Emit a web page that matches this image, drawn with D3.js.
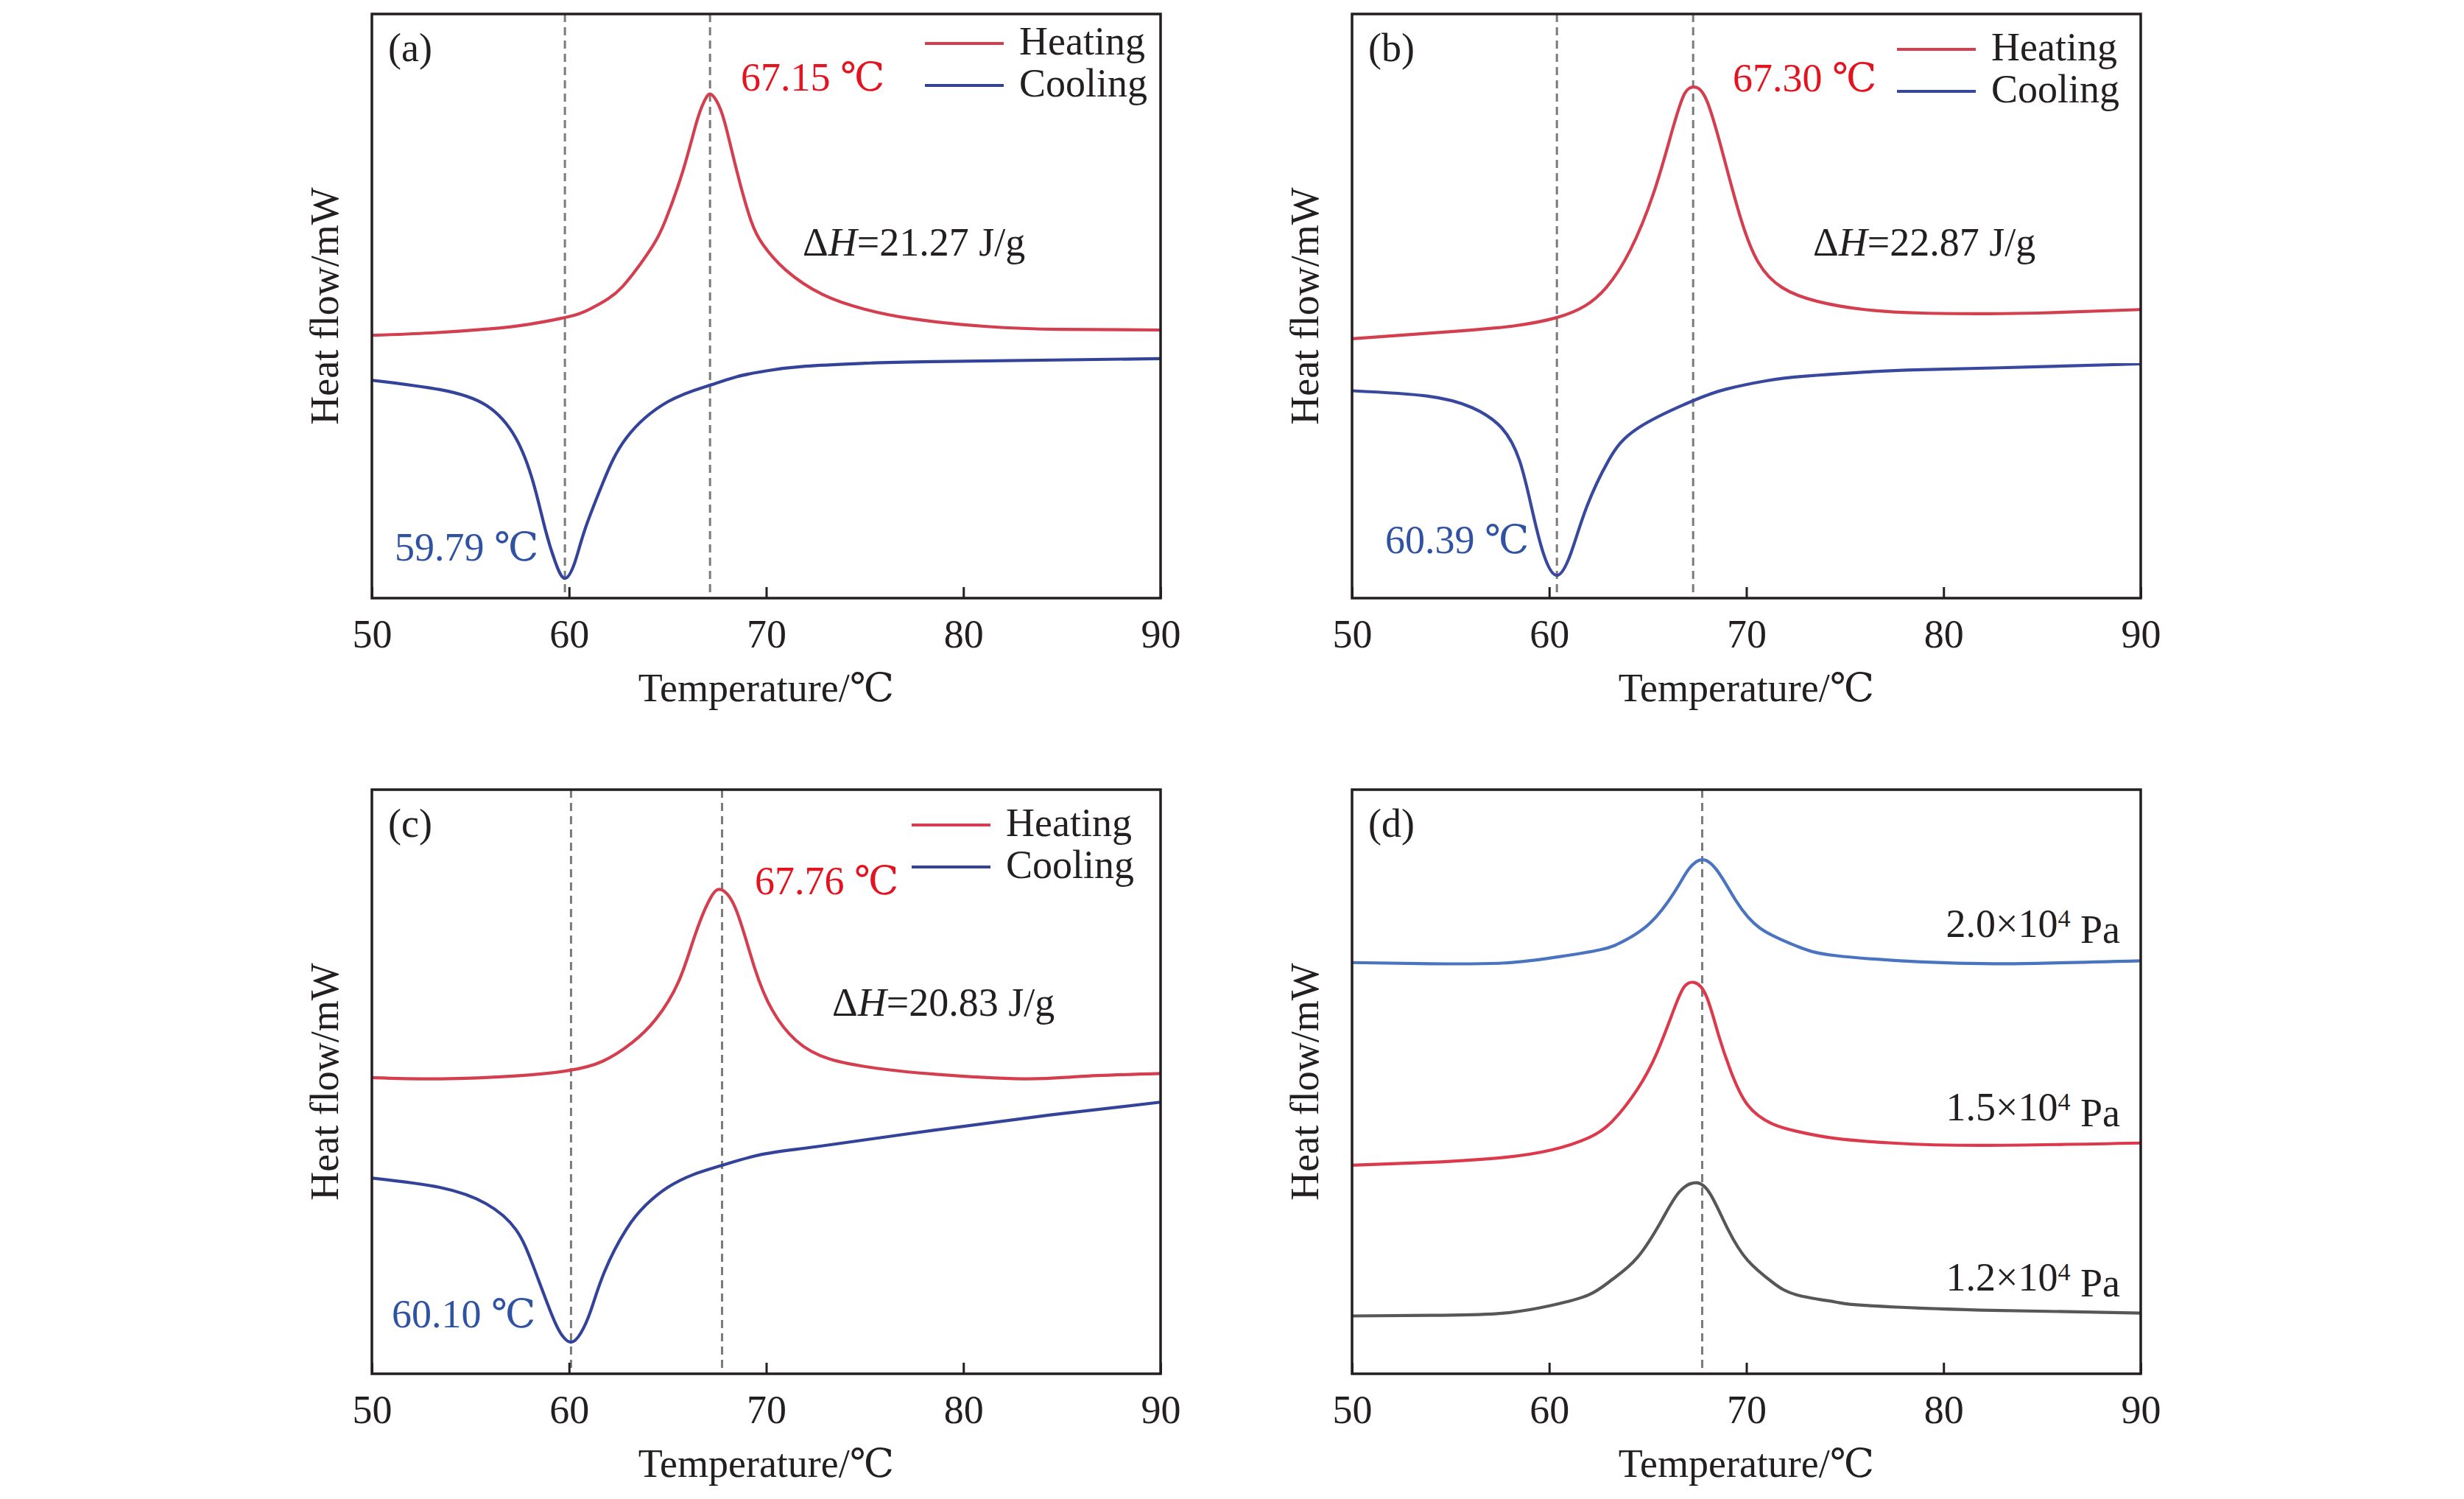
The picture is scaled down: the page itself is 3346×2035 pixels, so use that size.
<!DOCTYPE html>
<html>
<head>
<meta charset="utf-8">
<script src="https://cdn.jsdelivr.net/npm/d3@7"></script>
<style>
  body { margin: 0; background: #fff; }
  text { font-family: "Liberation Serif", "Times New Roman", "DejaVu Serif", serif; fill: #231f20; }
</style>
</head>
<body>
<svg width="3346" height="2035"></svg>
<script>
const width = 3346;
const height = 2035;

// temperature ticks
const xTicks = [50, 60, 70, 80, 90];

// heat flow traces, [temperature, relative heat flow 0-100]
const aHeating = [[50,45.0],[53,45.4],[56,46.1],[58,46.9],[60,48.2],[61,49.4],[62,51.3],[62.7,53.3],[63.4,56.2],[64.26,60.4],[64.88,64.6],[65.77,73.1],[66.47,81.5],[66.85,85.0],[67.15,86.3],[67.5,85.0],[67.89,81.5],[68.51,73.1],[69.23,64.6],[69.86,60.4],[70.98,56.2],[72.85,52.0],[74.95,49.5],[77.45,47.8],[81.2,46.5],[85,46.0],[90,45.9]];
const aCooling = [[50,37.3],[53.45,35.7],[55.8,33.0],[57.3,27.4],[58.2,19.6],[58.8,11.7],[59.3,6.2],[59.79,3.4],[60.3,6.2],[60.8,11.7],[61.7,19.6],[62.9,27.4],[65,33.6],[67.1,36.4],[68.5,37.9],[70,38.9],[72,39.7],[75,40.2],[78.5,40.5],[90,41.0]];

const bHeating = [[50,44.4],[55.3,45.7],[58.2,46.6],[60.35,48.0],[61.8,50.0],[62.9,53.2],[64.1,59.5],[65.3,69.4],[66.2,79.6],[66.8,85.9],[67.3,87.5],[68.0,85.1],[68.9,74.9],[69.75,64.6],[70.6,57.5],[71.8,53.2],[73.6,50.8],[76,49.4],[78.9,48.8],[81.9,48.7],[84.8,48.8],[90,49.4]];
const bCooling = [[50,35.5],[53.8,34.6],[56.1,32.6],[57.6,29.1],[58.5,23.5],[59.1,15.6],[59.7,7.7],[60.39,3.9],[61.1,7.7],[61.9,15.6],[63.0,23.5],[64.5,29.1],[67.3,33.8],[69,35.8],[71,37.2],[73,38.0],[76,38.7],[78.9,39.1],[84.8,39.6],[90,40.1]];

const cHeating = [[50,50.7],[53.45,50.5],[57.3,51.0],[59.95,51.9],[61.7,53.5],[63.2,56.7],[64.4,60.7],[65.55,67.1],[66.4,75.2],[67.2,81.6],[67.77,82.8],[68.5,79.2],[69.4,69.6],[70.3,62.3],[71.5,57.1],[73.2,53.9],[75.6,52.3],[78.5,51.3],[83,50.5],[85.9,50.9],[90,51.4]];
const cCooling = [[50,33.5],[53.45,31.9],[55.8,29.1],[57.3,24.7],[58.2,18.3],[59.1,10.3],[59.6,6.8],[60.1,5.4],[60.6,7.0],[61.1,10.8],[61.8,17.5],[62.9,24.7],[63.9,28.9],[65,31.9],[66.3,34.1],[67.77,35.7],[69.7,37.5],[72.6,38.9],[78.5,41.7],[84.4,44.3],[90,46.5]];

const dHigh = [[50,70.4],[54,70.2],[57.6,70.3],[60.1,71.2],[62.6,72.6],[63.85,74.2],[65.1,77.1],[66.34,82.4],[67.08,86.4],[67.8,88.0],[68.57,85.9],[69.45,81.1],[70.69,76.3],[72.56,73.2],[74.5,71.6],[78.9,70.5],[83.3,70.2],[90,70.7]];
const dMid = [[50,35.7],[54,36.2],[57.6,37.0],[60.1,38.3],[62,40.4],[63.22,43.3],[64.47,48.7],[65.47,55.0],[66.34,62.5],[66.84,66.2],[67.33,67.0],[67.95,64.8],[68.57,58.2],[69.2,51.9],[70.07,46.0],[71.31,42.8],[72.56,41.5],[74.5,40.3],[77.4,39.5],[81.9,39.1],[90,39.5]];
const dLow = [[50,9.9],[54,10.0],[57.6,10.35],[60.1,11.7],[62,13.5],[63.22,16.2],[64.47,19.9],[65.71,26.3],[66.59,31.1],[67.46,32.7],[68.2,30.6],[69.07,24.7],[70.07,19.4],[71.31,15.7],[72.56,13.5],[74.5,12.3],[76,11.7],[81.9,10.9],[90,10.4]];

// annotations
const panelLetters = ["(a)", "(b)", "(c)", "(d)"];
const peakTemps = ["67.15", "67.30", "67.76"];
const troughTemps = ["59.79", "60.39", "60.10"];
const enthalpies = ["21.27", "22.87", "20.83"];
const markerLines = [[59.79, 67.15], [60.39, 67.30], [60.10, 67.76], [67.76]];
const pressures = ["2.0", "1.5", "1.2"];
const legendNames = ["Heating", "Cooling"];

const plotW = 1071;
const plotH = 793;
const red = "#d43f4f";
const navy = "#34439a";

const panels = [
  { x: 505, y: 19, series: [[aHeating, red], [aCooling, navy]],
    peak: [501, 104], dh: [585, 328], trough: [31, 742], legend: [751, 40] },
  { x: 1836, y: 19, series: [[bHeating, red], [bCooling, "#38489f"]],
    peak: [517, 105], dh: [626, 328], trough: [45, 732], legend: [740, 48] },
  { x: 505, y: 1072, series: [[cHeating, red], [cCooling, navy]],
    peak: [520, 142], dh: [625, 307], trough: [27, 730], legend: [733, 48] },
  { x: 1836, y: 1072, series: [[dHigh, "#4a73c0"], [dMid, "#dc3a4c"], [dLow, "#555759"]],
    labels: [200, 449, 680] }
];

const svg = d3.select("svg");

const xScale = d3.scaleLinear().domain([50, 90]).range([0, plotW]);
const yScale = d3.scaleLinear().domain([0, 100]).range([plotH, 0]);

const line = d3.line()
  .x(d => xScale(d[0]))
  .y(d => yScale(d[1]))
  .curve(d3.curveNatural);

panels.forEach((p, i) => {
  const g = svg.append("g").attr("transform", `translate(${p.x},${p.y})`);

  // dashed marker lines
  g.selectAll(".marker")
    .data(markerLines[i])
    .enter()
    .append("line")
    .attr("class", "marker")
    .attr("x1", d => xScale(d))
    .attr("x2", d => xScale(d))
    .attr("y1", 0)
    .attr("y2", plotH)
    .attr("stroke", "#7b7b7d")
    .attr("stroke-width", 3)
    .attr("stroke-dasharray", "11,7");

  // curves
  p.series.forEach(s => {
    g.append("path")
      .datum(s[0])
      .attr("d", line)
      .attr("fill", "none")
      .attr("stroke", s[1])
      .attr("stroke-width", 4.2);
  });

  // x axis, ticks point inwards
  const xAxis = d3.axisBottom(xScale)
    .tickValues(xTicks)
    .tickSize(-15)
    .tickPadding(29)
    .tickFormat(d3.format("d"));

  const ax = g.append("g")
    .attr("transform", `translate(0,${plotH})`)
    .call(xAxis);
  ax.select(".domain").remove();
  ax.selectAll(".tick line").attr("stroke", "#231f20").attr("stroke-width", 3);
  ax.selectAll(".tick text")
    .attr("fill", "#231f20")
    .style("font-size", "54px")
    .style("font-family", "'Liberation Serif', serif");

  // frame
  g.append("rect")
    .attr("width", plotW)
    .attr("height", plotH)
    .attr("fill", "none")
    .attr("stroke", "#231f20")
    .attr("stroke-width", 3.5);

  // axis titles
  g.append("text")
    .attr("x", plotW / 2)
    .attr("y", plotH + 140)
    .attr("text-anchor", "middle")
    .style("font-size", "54px")
    .text("Temperature/℃");

  g.append("text")
    .attr("transform", `translate(-46,${plotH / 2}) rotate(-90)`)
    .attr("text-anchor", "middle")
    .style("font-size", "54px")
    .text("Heat flow/mW");

  g.append("text")
    .attr("x", 22)
    .attr("y", 64)
    .style("font-size", "54px")
    .text(panelLetters[i]);

  if (i < 3) {
    g.append("text")
      .attr("x", p.peak[0])
      .attr("y", p.peak[1])
      .style("font-size", "54px")
      .style("fill", "#e3141f")
      .text(`${peakTemps[i]} ℃`);

    g.append("text")
      .attr("x", p.trough[0])
      .attr("y", p.trough[1])
      .style("font-size", "54px")
      .style("fill", "#2f52a2")
      .text(`${troughTemps[i]} ℃`);

    const dh = g.append("text")
      .attr("x", p.dh[0])
      .attr("y", p.dh[1])
      .style("font-size", "54px");
    dh.append("tspan").text("Δ");
    dh.append("tspan").style("font-style", "italic").text("H");
    dh.append("tspan").text(`=${enthalpies[i]} J/g`);

    // legend
    const legend = g.append("g").attr("transform", `translate(${p.legend[0]},${p.legend[1]})`);
    legendNames.forEach((name, k) => {
      legend.append("line")
        .attr("x1", 0)
        .attr("x2", 107)
        .attr("y1", k * 57)
        .attr("y2", k * 57)
        .attr("stroke", p.series[k][1])
        .attr("stroke-width", 4.2);
      legend.append("text")
        .attr("x", 128)
        .attr("y", k * 57 + 15)
        .style("font-size", "54px")
        .text(name);
    });
  } else {
    pressures.forEach((pr, k) => {
      const t = g.append("text")
        .attr("x", 1043)
        .attr("y", p.labels[k])
        .attr("text-anchor", "end")
        .style("font-size", "54px");
      t.append("tspan").text(`${pr}×10`);
      t.append("tspan").attr("dy", "-0.42em").style("font-size", "34px").text("4");
      t.append("tspan").attr("dy", "0.42em").text(" Pa");
    });
  }
});
</script>
</body>
</html>
